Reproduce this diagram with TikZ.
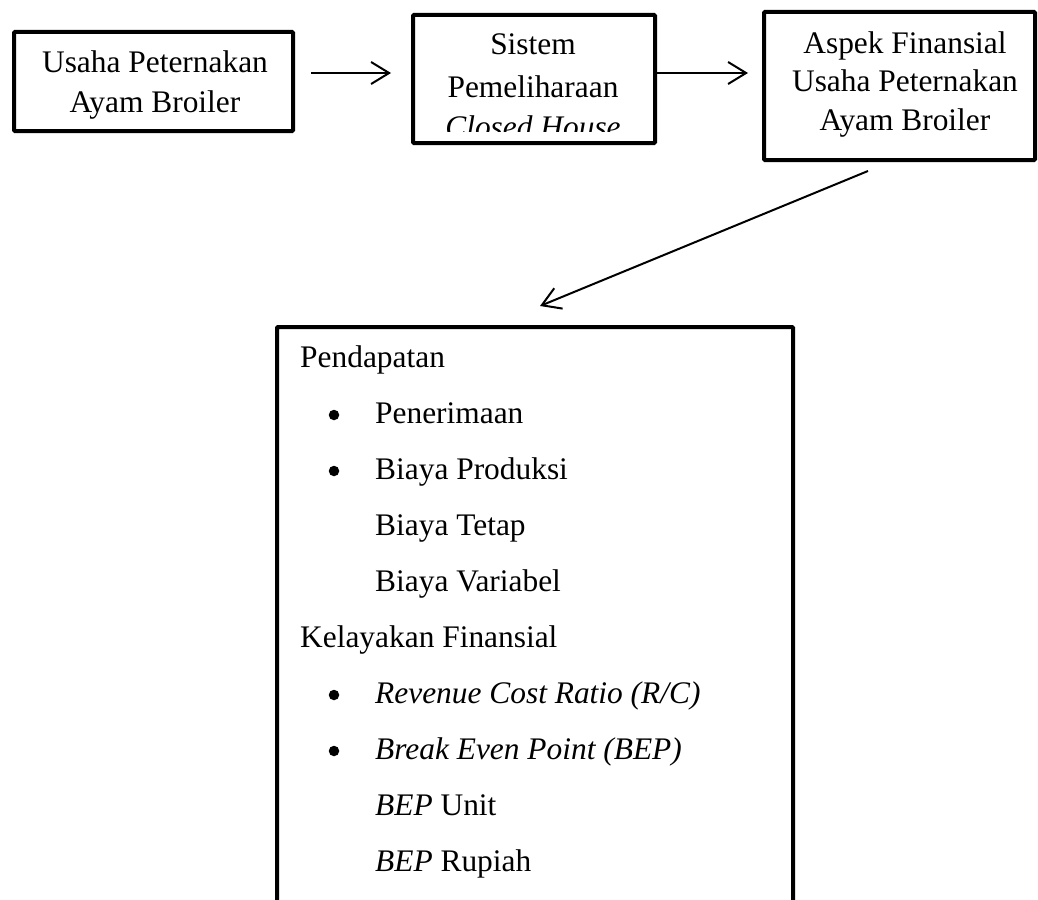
\documentclass[tikz,border=0pt]{standalone}
\usepackage{fontspec}
\setmainfont{Liberation Serif}
\usetikzlibrary{arrows.meta,calc}
\begin{document}
\begin{tikzpicture}[x=1pt,y=-1pt,
  box/.style={draw,line width=4pt,inner sep=0pt,rounded corners=1pt},
  arr/.style={line width=2pt,-{Straight Barb[length=18pt,width=22pt,line width=2pt]}},
  txt/.style={font=\fontsize{31.4}{39}\selectfont,inner sep=0pt},
  ctext/.style={txt,anchor=base},
  item/.style={txt,anchor=base west},
  dot/.style={circle,fill,inner sep=0pt,minimum size=10.5pt}]
\useasboundingbox (0,0) rectangle (1038,899);
% boxes
\node[box,minimum width=279pt,minimum height=99pt] (b1) at (153.5,81.5) {};
\node[box,minimum width=242pt,minimum height=128pt] (b2) at (534,79) {};
\node[box,minimum width=271pt,minimum height=148pt] (b3) at (899.5,86) {};
\node[box,minimum width=516pt,minimum height=633pt] (b4) at (535,643.5) {};
% box texts
\node[ctext] (t11) at (155,73) {Usaha Peternakan};
\node[ctext] (t12) at (155,112) {Ayam Broiler};
\begin{scope}
  \clip (413,15) rectangle (655,131);
  \node[ctext] (t21) at (533,55) {Sistem};
  \node[ctext] (t22) at (533,97) {Pemeliharaan};
  \node[ctext] (t23) at (533,137) {\itshape Closed House};
\end{scope}
\node[ctext] (t31) at (905,53) {Aspek Finansial};
\node[ctext] (t32) at (905,92) {Usaha Peternakan};
\node[ctext] (t33) at (905,130) {Ayam Broiler};
% arrows
\draw[arr] ($(b1.east)+(16,-8.5)$) -- ($(b2.west)+(-20,-6)$);
\draw[arr] ($(b2.east)+(0,-6)$) -- ($(b3.west)+(-14,-13)$);
\draw[arr] ($(b3.south)+(-31.5,9)$) -- ($(b4.north)+(5,-19)$);
% list
\node[item] (l1) at (300,367) {Pendapatan};
\node[dot] (bu1) at (334,415) {};
\node[item] (l2) at (375,423) {Penerimaan};
\node[dot] (bu2) at (334,471) {};
\node[item] (l3) at (375,479) {Biaya Produksi};
\node[item] (l4) at (375,535) {Biaya Tetap};
\node[item] (l5) at (375,591) {Biaya Variabel};
\node[item] (l6) at (300,647) {Kelayakan Finansial};
\node[dot] (bu3) at (334,695) {};
\node[item] (l7) at (375,703) {\itshape Revenue Cost Ratio (R/C)};
\node[dot] (bu4) at (334,751) {};
\node[item] (l8) at (375,759) {\itshape Break Even Point (BEP)};
\node[item] (l9) at (375,815) {\textit{BEP} Unit};
\node[item] (l10) at (375,871) {\textit{BEP} Rupiah};
\end{tikzpicture}
\end{document}
